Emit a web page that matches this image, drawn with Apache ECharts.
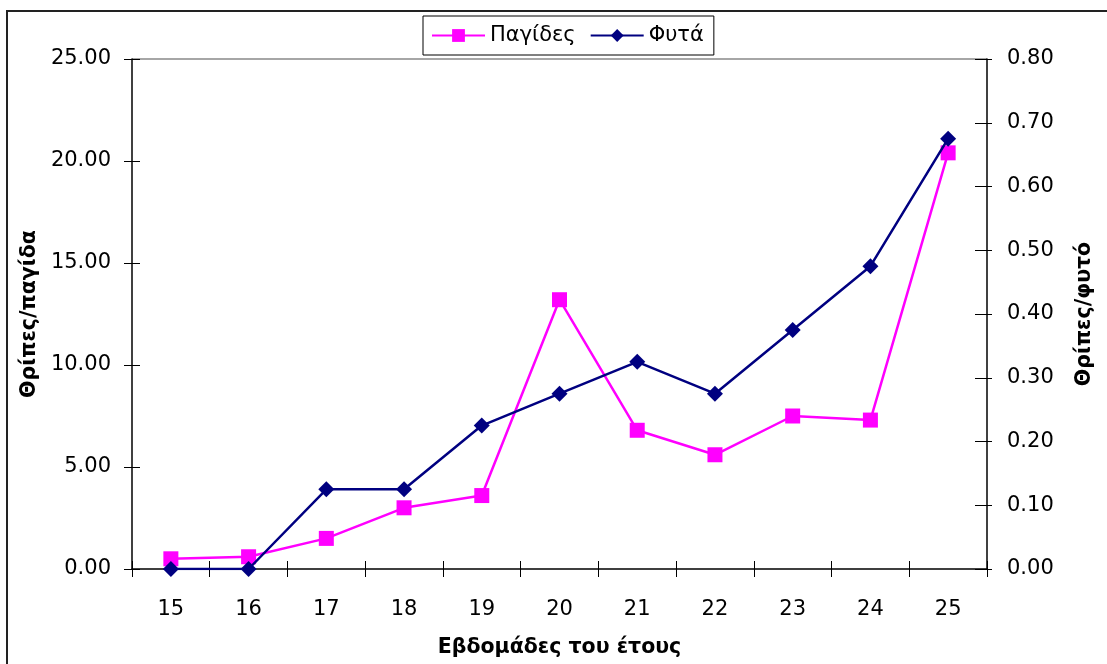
<!DOCTYPE html>
<html>
<head>
<meta charset="utf-8">
<script src="https://cdn.jsdelivr.net/npm/echarts@6/dist/echarts.min.js"></script>
<style>
html,body{margin:0;padding:0;background:#fff;}
#c{width:1107px;height:664px;}
</style>
</head>
<body>
<div id="c"></div>
<script>
const weeks = ['15','16','17','18','19','20','21','22','23','24','25'];
const pagides = [0.5, 0.6, 1.5, 3.0, 3.6, 13.2, 6.8, 5.6, 7.5, 7.3, 20.4];
const fyta = [0, 0, 0.125, 0.125, 0.225, 0.275, 0.325, 0.275, 0.375, 0.475, 0.675];
const seriesNames = ['Παγίδες', 'Φυτά'];
const axisTitles = {x: 'Εβδομάδες του έτους', left: 'Θρίπες/παγίδα', right: 'Θρίπες/φυτό'};

const FONT = 'DejaVu Sans, Verdana, sans-serif';
const chart = echarts.init(document.getElementById('c'), null, {renderer: 'canvas'});
const tickStyle = {color: '#000', width: 1};
const labelStyle = {color: '#000', fontSize: 21, fontFamily: FONT};
const nameStyle = {color: '#000', fontSize: 20.5, fontWeight: 'bold', fontFamily: FONT};

chart.setOption({
  animation: false,
  backgroundColor: '#fff',
  graphic: [{
    type: 'rect', silent: true, z: -1,
    shape: {x: 7, y: 11, width: 1200, height: 700},
    style: {fill: 'none', stroke: '#222', lineWidth: 2}
  }, {
    type: 'line', silent: true,
    shape: {x1: 132, y1: 59, x2: 987, y2: 59},
    style: {stroke: '#888', lineWidth: 1.5}
  }],
  legend: {
    left: 423, top: 16,
    padding: [9, 10, 9, 8],
    borderColor: '#000', borderWidth: 1,
    itemWidth: 53, itemHeight: 16, itemGap: 14,
    textStyle: {color: '#000', fontSize: 21, fontFamily: FONT},
    data: seriesNames
  },
  grid: {left: 132, right: 120, top: 59, bottom: 95, containLabel: false},
  xAxis: [{
    type: 'category', data: weeks, boundaryGap: true,
    position: 'bottom',
    axisLine: {lineStyle: {color: '#000', width: 1.5}},
    axisTick: {show: true, length: 8, inside: false, lineStyle: tickStyle},
    axisLabel: {...labelStyle, margin: 30},
    name: axisTitles.x, nameLocation: 'middle', nameGap: 68,
    nameTextStyle: nameStyle,
    splitLine: {show: false}
  }, {
    type: 'category', data: weeks, boundaryGap: true,
    position: 'bottom',
    axisLine: {show: false},
    axisTick: {show: true, length: 8, inside: true, lineStyle: tickStyle},
    axisLabel: {show: false},
    splitLine: {show: false}
  }],
  yAxis: [{
    type: 'value', min: 0, max: 25, interval: 5, position: 'left',
    axisLine: {show: true, lineStyle: {color: '#000', width: 1.5}},
    axisTick: {show: true, length: 8, lineStyle: tickStyle},
    axisLabel: {...labelStyle, margin: 21, formatter: v => v.toFixed(2)},
    splitLine: {show: false},
    name: axisTitles.left, nameLocation: 'middle', nameGap: 92, nameRotate: 90,
    nameTextStyle: nameStyle
  }, {
    type: 'value', min: 0, max: 0.8, interval: 0.1, position: 'right',
    axisLine: {show: true, lineStyle: {color: '#000', width: 1.5}},
    axisTick: {show: true, length: 5, lineStyle: tickStyle},
    axisLabel: {...labelStyle, margin: 20, formatter: v => v.toFixed(2)},
    splitLine: {show: false},
    name: axisTitles.right, nameLocation: 'middle', nameGap: 87, nameRotate: 90,
    nameTextStyle: nameStyle
  }, {
    type: 'value', min: 0, max: 25, interval: 5, position: 'left',
    axisLine: {show: false},
    axisTick: {show: true, length: 8, inside: true, lineStyle: tickStyle},
    axisLabel: {show: false}, splitLine: {show: false}
  }, {
    type: 'value', min: 0, max: 0.8, interval: 0.1, position: 'right',
    axisLine: {show: false},
    axisTick: {show: true, length: 12, inside: true, lineStyle: tickStyle},
    axisLabel: {show: false}, splitLine: {show: false}
  }],
  series: [{
    name: seriesNames[0], type: 'line', data: pagides,
    xAxisIndex: 0, yAxisIndex: 0,
    symbol: 'rect', symbolSize: 15,
    itemStyle: {color: '#FF00FF'},
    lineStyle: {color: '#FF00FF', width: 2.5},
    z: 3
  }, {
    name: seriesNames[1], type: 'line', data: fyta,
    xAxisIndex: 0, yAxisIndex: 1,
    symbol: 'diamond', symbolSize: [16, 16],
    itemStyle: {color: '#000080'},
    lineStyle: {color: '#000080', width: 2.5},
    z: 4
  }]
});
</script>
</body>
</html>
